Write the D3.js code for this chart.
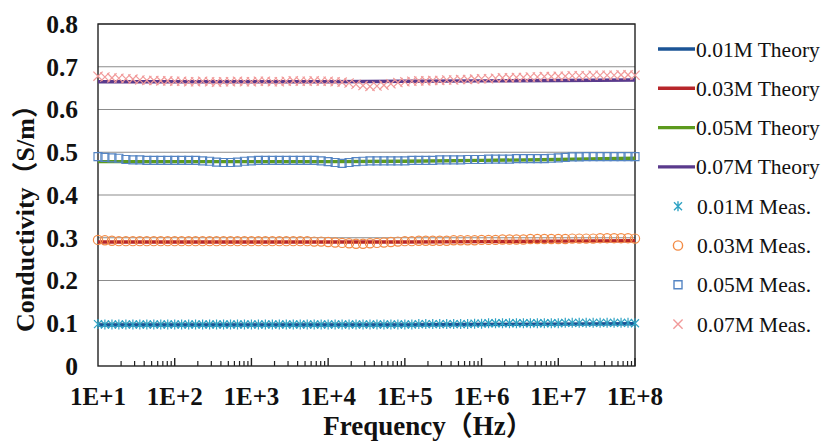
<!DOCTYPE html>
<html>
<head>
<meta charset="utf-8">
<script src="https://cdn.jsdelivr.net/npm/d3@7"></script>
<style>
  body { margin: 0; background: #fff; }
  svg { display: block; }
</style>
</head>
<body>
<svg id="chart" width="823" height="441"></svg>
<script>
// measured sweep frequencies (Hz)
const measFreq = [
  10, 12.3, 15.2, 18.7, 23.1, 28.5, 35.1, 43.3, 53.4, 65.8, 81.1,
  100, 123, 152, 187, 231, 285, 351, 433, 534, 658, 811,
  1000, 1233, 1520, 1874, 2310, 2848, 3511, 4329, 5337, 6579, 8111,
  1e4, 12330, 15200, 18740, 23100, 28480, 35110, 43290, 53370, 65790, 81110,
  1e5, 123300, 152000, 187400, 231000, 284800, 351100, 432900, 533700, 657900, 811100,
  1e6, 1.233e6, 1.52e6, 1.874e6, 2.31e6, 2.848e6, 3.511e6, 4.329e6, 5.337e6, 6.579e6, 8.111e6,
  1e7, 1.233e7, 1.52e7, 1.874e7, 2.31e7, 2.848e7, 3.511e7, 4.329e7, 5.337e7, 6.579e7, 8.111e7,
  1e8
];
const theoryFreq = [1e1, 1e2, 1e3, 1e4, 1e5, 1e6, 1e7, 1e8];

// theory curves (S/m)
const theory001 = [0.096, 0.096, 0.096, 0.096, 0.096, 0.097, 0.098, 0.099];
const theory003 = [0.290, 0.290, 0.290, 0.290, 0.290, 0.291, 0.292, 0.293];
const theory005 = [0.478, 0.478, 0.478, 0.478, 0.479, 0.481, 0.483, 0.486];
const theory007 = [0.665, 0.665, 0.665, 0.665, 0.666, 0.667, 0.668, 0.669];

// measurements (S/m)
const meas001 = [
  0.098, 0.097, 0.097, 0.097, 0.097, 0.097, 0.097, 0.097, 0.097, 0.097, 0.097,
  0.097, 0.097, 0.097, 0.097, 0.097, 0.097, 0.097, 0.097, 0.097, 0.097, 0.097,
  0.097, 0.097, 0.097, 0.097, 0.097, 0.097, 0.097, 0.097, 0.097, 0.097, 0.097,
  0.097, 0.097, 0.097, 0.097, 0.097, 0.097, 0.097, 0.097, 0.097, 0.097, 0.097,
  0.097, 0.097, 0.098, 0.098, 0.098, 0.098, 0.098, 0.098, 0.098, 0.098, 0.099,
  0.099, 0.100, 0.100, 0.100, 0.100, 0.100, 0.100, 0.100, 0.100, 0.100, 0.100,
  0.100, 0.101, 0.101, 0.101, 0.101, 0.101, 0.101, 0.101, 0.101, 0.101, 0.101,
  0.100
];
const meas003 = [
  0.295, 0.294, 0.293, 0.292, 0.292, 0.292, 0.292, 0.292, 0.292, 0.292, 0.292,
  0.292, 0.292, 0.292, 0.292, 0.292, 0.292, 0.292, 0.292, 0.292, 0.292, 0.292,
  0.292, 0.292, 0.292, 0.292, 0.292, 0.292, 0.292, 0.292, 0.292, 0.291, 0.291,
  0.290, 0.289, 0.288, 0.287, 0.286, 0.286, 0.287, 0.288, 0.289, 0.290, 0.291,
  0.292, 0.292, 0.293, 0.293, 0.293, 0.293, 0.293, 0.294, 0.294, 0.294, 0.294,
  0.295, 0.295, 0.295, 0.296, 0.296, 0.296, 0.296, 0.297, 0.297, 0.297, 0.297,
  0.297, 0.297, 0.298, 0.298, 0.298, 0.298, 0.299, 0.299, 0.299, 0.299, 0.299,
  0.298
];
const meas005 = [
  0.490, 0.488, 0.487, 0.486, 0.483, 0.482, 0.482, 0.481, 0.481, 0.481, 0.481,
  0.481, 0.481, 0.481, 0.481, 0.480, 0.479, 0.477, 0.476, 0.476, 0.477, 0.479,
  0.480, 0.481, 0.481, 0.481, 0.481, 0.481, 0.481, 0.481, 0.481, 0.481, 0.480,
  0.478, 0.476, 0.474, 0.476, 0.478, 0.479, 0.480, 0.480, 0.480, 0.480, 0.480,
  0.480, 0.481, 0.481, 0.481, 0.481, 0.482, 0.482, 0.482, 0.482, 0.483, 0.483,
  0.483, 0.484, 0.484, 0.484, 0.484, 0.485, 0.485, 0.485, 0.485, 0.485, 0.486,
  0.487, 0.488, 0.489, 0.489, 0.490, 0.490, 0.490, 0.490, 0.490, 0.490, 0.490,
  0.490
];
const meas007 = [
  0.678, 0.676, 0.674, 0.673, 0.672, 0.671, 0.669, 0.668, 0.668, 0.667, 0.667,
  0.666, 0.666, 0.665, 0.665, 0.666, 0.665, 0.664, 0.665, 0.665, 0.666, 0.665,
  0.665, 0.666, 0.666, 0.665, 0.665, 0.666, 0.667, 0.666, 0.666, 0.667, 0.666,
  0.666, 0.665, 0.664, 0.662, 0.659, 0.656, 0.654, 0.655, 0.657, 0.660, 0.663,
  0.665, 0.666, 0.667, 0.667, 0.668, 0.668, 0.669, 0.669, 0.670, 0.670, 0.671,
  0.672, 0.672, 0.673, 0.674, 0.674, 0.675, 0.675, 0.676, 0.676, 0.677, 0.677,
  0.678, 0.678, 0.679, 0.679, 0.679, 0.680, 0.680, 0.680, 0.680, 0.681, 0.681,
  0.680
];

const yTicks = [0, 0.1, 0.2, 0.3, 0.4, 0.5, 0.6, 0.7, 0.8];
const xTicks = [1e1, 1e2, 1e3, 1e4, 1e5, 1e6, 1e7, 1e8];
const xTickLabels = ["1E+1", "1E+2", "1E+3", "1E+4", "1E+5", "1E+6", "1E+7", "1E+8"];

const theorySeries = [
  { name: "0.01M Theory", values: theory001, color: "#1b5496" },
  { name: "0.03M Theory", values: theory003, color: "#b7262a" },
  { name: "0.05M Theory", values: theory005, color: "#5c9a1e" },
  { name: "0.07M Theory", values: theory007, color: "#5a3a8c" }
];
const measSeries = [
  { name: "0.01M Meas.", values: meas001, color: "#2fa3c4", shape: "star" },
  { name: "0.03M Meas.", values: meas003, color: "#f38b45", shape: "circle" },
  { name: "0.05M Meas.", values: meas005, color: "#5585c4", shape: "square" },
  { name: "0.07M Meas.", values: meas007, color: "#f19a9a", shape: "cross" }
];

const svg = d3.select("#chart");
const margin = { top: 24, right: 188, bottom: 75, left: 98 };
const width = 823 - margin.left - margin.right;
const height = 441 - margin.top - margin.bottom;
const serif = "'Liberation Serif', 'Times New Roman', 'Noto Sans CJK SC', serif";

const g = svg.append("g").attr("transform", "translate(" + margin.left + "," + margin.top + ")");

const x = d3.scaleLog().domain([1e1, 1e8]).range([0, width]);
const y = d3.scaleLinear().domain([0, 0.8]).range([height, 0]);

// horizontal gridlines
g.append("g")
  .selectAll("line")
  .data(yTicks.slice(1))
  .enter().append("line")
  .attr("x1", 0).attr("x2", width)
  .attr("y1", d => y(d)).attr("y2", d => y(d))
  .attr("stroke", "#8c8c8c").attr("stroke-width", 1.2);

// frame
g.append("rect")
  .attr("x", 0).attr("y", 0).attr("width", width).attr("height", height)
  .attr("fill", "none").attr("stroke", "#222").attr("stroke-width", 1.4);

// y tick labels
g.append("g")
  .selectAll("text")
  .data(yTicks)
  .enter().append("text")
  .attr("x", -20).attr("y", d => y(d))
  .attr("dy", "0.35em")
  .attr("text-anchor", "end")
  .attr("font-family", serif).attr("font-weight", "bold").attr("font-size", 25.5)
  .attr("fill", "#111")
  .text(d => d === 0 ? "0" : d3.format(".1f")(d));

// x minor/major ticks, drawn inward
const minorTicks = x.ticks().filter(d => !xTicks.includes(d));
g.append("g")
  .selectAll("line")
  .data(minorTicks)
  .enter().append("line")
  .attr("x1", d => x(d)).attr("x2", d => x(d))
  .attr("y1", height).attr("y2", height - 5)
  .attr("stroke", "#222").attr("stroke-width", 1.2);
g.append("g")
  .selectAll("line")
  .data(xTicks.slice(1))
  .enter().append("line")
  .attr("x1", d => x(d)).attr("x2", d => x(d))
  .attr("y1", height).attr("y2", height - 8)
  .attr("stroke", "#222").attr("stroke-width", 1.4);

// x tick labels
g.append("g")
  .selectAll("text")
  .data(xTicks)
  .enter().append("text")
  .attr("x", d => x(d)).attr("y", height + 39)
  .attr("text-anchor", "middle")
  .attr("font-family", serif).attr("font-weight", "bold").attr("font-size", 25)
  .attr("fill", "#111")
  .text((d, i) => xTickLabels[i]);

// axis titles
svg.append("text")
  .attr("x", 428).attr("y", 435)
  .attr("text-anchor", "middle")
  .attr("font-family", serif).attr("font-weight", "bold").attr("font-size", 27)
  .attr("fill", "#111")
  .text("Frequency（Hz）");

svg.append("text")
  .attr("transform", "translate(34,212) rotate(-90)")
  .attr("text-anchor", "middle")
  .attr("font-family", serif).attr("font-weight", "bold").attr("font-size", 26)
  .attr("fill", "#111")
  .text("Conductivity（S/m）");

// theory lines
const theoryLine = d3.line()
  .x((d, i) => x(theoryFreq[i]))
  .y(d => y(d));

g.selectAll(".theory")
  .data(theorySeries)
  .enter().append("path")
  .attr("class", "theory")
  .attr("d", d => theoryLine(d.values))
  .attr("fill", "none")
  .attr("stroke", d => d.color)
  .attr("stroke-width", 3.4);

// marker shapes
function markerPath(shape) {
  if (shape === "star") return "M-4,-4L4,4M-4,4L4,-4M0,-5L0,5";
  if (shape === "circle") return "M4.6,0A4.6,4.6 0 1 1 -4.6,0A4.6,4.6 0 1 1 4.6,0Z";
  if (shape === "square") return "M-4,-4H4V4H-4Z";
  return "M-4.6,-4.6L4.6,4.6M-4.6,4.6L4.6,-4.6";
}

measSeries.forEach(s => {
  g.append("g")
    .selectAll("path")
    .data(s.values)
    .enter().append("path")
    .attr("transform", (d, i) => "translate(" + x(measFreq[i]) + "," + y(d) + ")")
    .attr("d", markerPath(s.shape))
    .attr("fill", "none")
    .attr("stroke", s.color)
    .attr("stroke-width", 1.2);
});

// legend
const legend = svg.append("g").attr("transform", "translate(658,49)");
const rowGap = 39.3;

theorySeries.forEach((s, i) => {
  const row = legend.append("g").attr("transform", "translate(0," + (i * rowGap) + ")");
  row.append("line")
    .attr("x1", 0).attr("x2", 37).attr("y1", 0).attr("y2", 0)
    .attr("stroke", s.color).attr("stroke-width", 3.4);
  row.append("text")
    .attr("x", 38).attr("y", 0).attr("dy", "0.35em")
    .attr("font-family", serif).attr("font-size", 21.5).attr("fill", "#111")
    .text(s.name);
});

measSeries.forEach((s, i) => {
  const row = legend.append("g").attr("transform", "translate(0," + ((i + 4) * rowGap) + ")");
  row.append("path")
    .attr("transform", "translate(20,0)")
    .attr("d", markerPath(s.shape))
    .attr("fill", "none")
    .attr("stroke", s.color).attr("stroke-width", 1.4);
  row.append("text")
    .attr("x", 39).attr("y", 0).attr("dy", "0.35em")
    .attr("font-family", serif).attr("font-size", 21.5).attr("fill", "#111")
    .text(s.name);
});
</script>
</body>
</html>
